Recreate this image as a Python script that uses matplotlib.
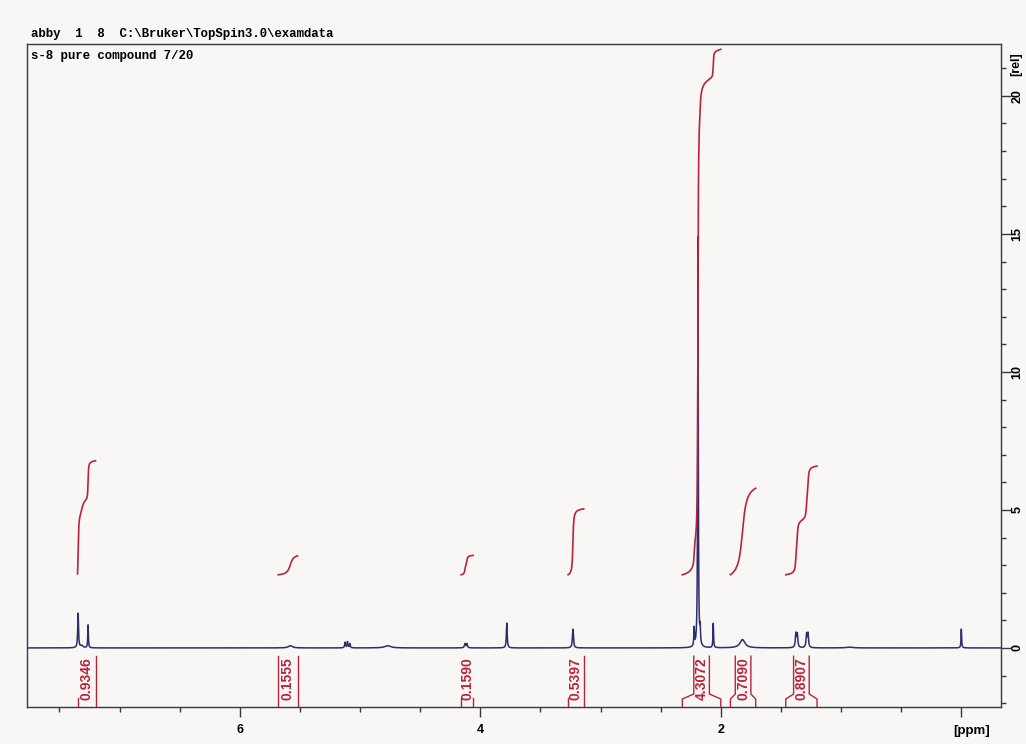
import numpy as np
import matplotlib
matplotlib.use("Agg")
import matplotlib.pyplot as plt
from matplotlib.ticker import FixedLocator, MultipleLocator

# 1H spectrum peaks: shift (ppm), height (rel), half width (ppm)
peak_ppm = [7.345, 7.315, 7.262, 5.58, 5.125, 5.105, 5.085, 4.77, 4.128, 4.112,
            3.78, 3.23, 2.222, 2.19, 2.172, 2.063, 1.82, 1.376, 1.364, 1.287,
            1.275, 0.93, 0.0]
peak_height = [1.25, 0.08, 0.83, 0.08, 0.2, 0.22, 0.15, 0.08, 0.15, 0.15,
               0.9, 0.68, 0.65, 14.9, 0.55, 0.88, 0.3, 0.5, 0.48, 0.48,
               0.5, 0.03, 0.68]
peak_width = [0.004, 0.012, 0.003, 0.02, 0.004, 0.004, 0.004, 0.03, 0.005, 0.005,
              0.004, 0.005, 0.003, 0.003, 0.003, 0.003, 0.025, 0.005, 0.005, 0.005,
              0.005, 0.03, 0.003]

# integral regions (ppm) and values
integral_hi = [7.35, 5.68, 4.16, 3.27, 2.32, 1.92, 1.46]
integral_lo = [7.20, 5.52, 4.06, 3.14, 2.00, 1.71, 1.20]
integral_value = [0.9346, 0.1555, 0.1590, 0.5397, 4.3072, 0.7090, 0.8907]
# which plain bracket lines are full height (left, right)
bracket_full = [(False, True), (True, True), (False, False), (False, True),
                (True, True), (True, True), (True, True)]

x_major = [0, 2, 4, 6]
x_major_labels = ["", "2", "4", "6"]
y_major = [0, 5, 10, 15, 20]

spec_color = "#2b2f6b"
int_color = "#b8243a"
frame_color = "#3a3a3a"
bg = "#f8f7f6"

ppm = np.linspace(7.77, -0.33, 24000)
spec = np.zeros_like(ppm)
for x0, h, w in zip(peak_ppm, peak_height, peak_width):
    spec += h / (1 + ((ppm - x0) / w) ** 2)

fig = plt.figure(figsize=(10.26, 7.44), dpi=100, facecolor=bg)
ax = fig.add_axes([27 / 1026, 1 - 707 / 744, (1001 - 27) / 1026, (707 - 44) / 744])
ax.set_facecolor(bg)

ax.plot(ppm, spec, color=spec_color, lw=1.1)

int_scale = 4.42
int_base = 2.65
inner = 0.065
for hi, lo, val, full in zip(integral_hi, integral_lo, integral_value, bracket_full):
    m = (ppm <= hi) & (ppm >= lo)
    cum = np.cumsum(spec[m])
    cum = cum / cum[-1]
    ax.plot(ppm[m], int_base + cum * val * int_scale, color=int_color, lw=1.2)

    c = (hi + lo) / 2
    y0, y_top = -2.14, -0.3
    if (hi - lo) / 2 > 0.09:
        for side in (1, -1):
            edge = hi if side == 1 else lo
            ax.plot([edge, edge, c + side * inner, c + side * inner],
                    [y0, -1.85, -1.67, y_top], color=int_color, lw=1.0)
    else:
        for edge, f in zip((hi, lo), full):
            ax.plot([edge, edge], [y0, y_top if f else -1.82], color=int_color, lw=1.0)
    ax.text(c, -1.1, f"{val:.4f}", rotation=90, ha="center", va="center",
            color=int_color, fontsize=10, fontweight="bold", family="Liberation Sans")

ax.set_xlim(7.77, -0.33)
ax.set_ylim(-2.14, 21.88)

ax.xaxis.set_major_locator(FixedLocator(x_major))
ax.set_xticklabels(x_major_labels)
ax.xaxis.set_minor_locator(MultipleLocator(0.5))
ax.yaxis.tick_right()
ax.yaxis.set_major_locator(FixedLocator(y_major))
ax.yaxis.set_minor_locator(MultipleLocator(1))
ax.tick_params(which="major", length=7, width=1.0, color=frame_color)
ax.tick_params(which="minor", length=3.5, width=1.0, color=frame_color)
ax.tick_params(axis="x", pad=5)
ax.tick_params(axis="y", labelrotation=90, pad=0.5)
for lab in ax.get_xticklabels() + ax.get_yticklabels():
    lab.set_fontsize(9)
    lab.set_fontweight("bold")
    lab.set_family("Liberation Sans")
for lab in ax.get_yticklabels():
    lab.set_va("center")
for s in ax.spines.values():
    s.set_color(frame_color)
    s.set_linewidth(1.0)

fig.text(1016 / 1026, 1 - 64 / 744, "[rel]", rotation=90, ha="center", va="center",
         fontsize=9, fontweight="bold", family="Liberation Sans")
fig.text(972 / 1026, 1 - 731 / 744, "[ppm]", ha="center", va="center",
         fontsize=9.5, fontweight="bold", family="Liberation Sans")

fig.text(31 / 1026, 1 - 34 / 744, r"abby  1  8  C:\Bruker\TopSpin3.0\examdata",
         ha="left", va="center", fontsize=8.9, fontweight="bold", family="Liberation Mono")
fig.text(31 / 1026, 1 - 56 / 744, "s-8 pure compound 7/20",
         ha="left", va="center", fontsize=8.9, fontweight="bold", family="Liberation Mono")

fig.savefig("out.png", dpi=100, facecolor=bg)
